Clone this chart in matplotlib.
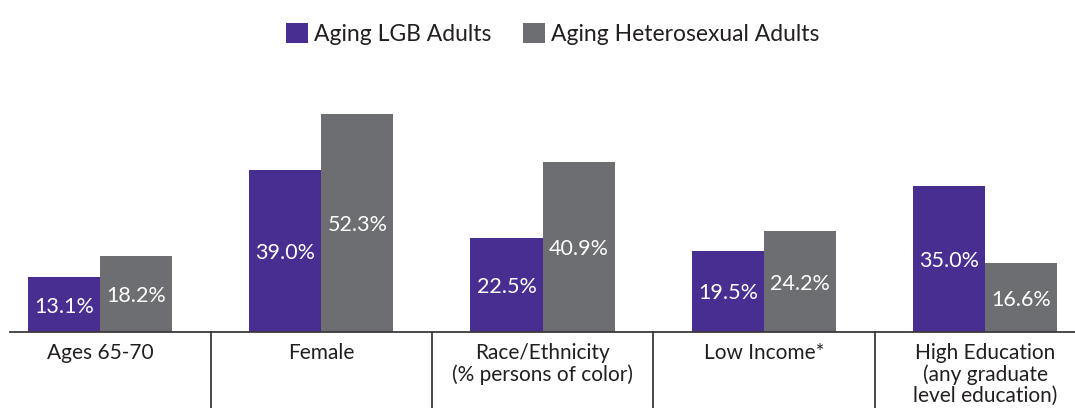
import numpy as np
import matplotlib
matplotlib.use("Agg")
import matplotlib.pyplot as plt

plt.rcParams['font.family'] = ['Lato', 'DejaVu Sans']

# chart data
categories = ['Ages 65-70', 'Female', 'Race/Ethnicity\n(% persons of color)',
              'Low Income*', 'High Education\n(any graduate\nlevel education)']
lgb_values = [13.1, 39.0, 22.5, 19.5, 35.0]
het_values = [18.2, 52.3, 40.9, 24.2, 16.6]
series_names = ['Aging LGB Adults', 'Aging Heterosexual Adults']

purple = '#482e91'
gray = '#6d6e71'

fig = plt.figure(figsize=(10.75, 4.08), dpi=100)
ax = fig.add_axes([10 / 1075, 76 / 408, 1065 / 1075, 250 / 408])

x = np.arange(len(categories))
bar_w = 0.326

b1 = ax.bar(x - bar_w / 2, lgb_values, bar_w, color=purple, label=series_names[0])
b2 = ax.bar(x + bar_w / 2, het_values, bar_w, color=gray, label=series_names[1])

for bars, vals in ((b1, lgb_values), (b2, het_values)):
    for rect, v in zip(bars, vals):
        ax.text(rect.get_x() + rect.get_width() / 2, v / 2 - 0.5, f'{v:.1f}%',
                ha='center', va='center', color='white', fontsize=15.5)

ax.set_xlim(-0.407, 4.406)
ax.set_ylim(0, 60)

for s in ['top', 'right', 'left']:
    ax.spines[s].set_visible(False)
ax.spines['bottom'].set_color('#3a3a3a')
ax.spines['bottom'].set_linewidth(1.3)
ax.set_yticks([])
ax.set_xticks(x)
ax.set_xticklabels(categories, fontsize=15, color='#231f20', linespacing=1.08)
ax.tick_params(axis='x', length=0, pad=8)

# separators between categories
for i in range(len(categories) - 1):
    ax.plot([i + 0.5, i + 0.5], [0, -25], color='#3a3a3a', lw=1.3, clip_on=False)

fig.legend(handles=[b1, b2], loc='upper center', bbox_to_anchor=(0.514, 1.0),
           ncol=2, frameon=False, fontsize=16.5, handlelength=0.95, handleheight=0.95,
           handletextpad=0.25, columnspacing=1.4, labelcolor='#231f20',
           borderaxespad=0.6)

fig.savefig('out.png', dpi=100)
